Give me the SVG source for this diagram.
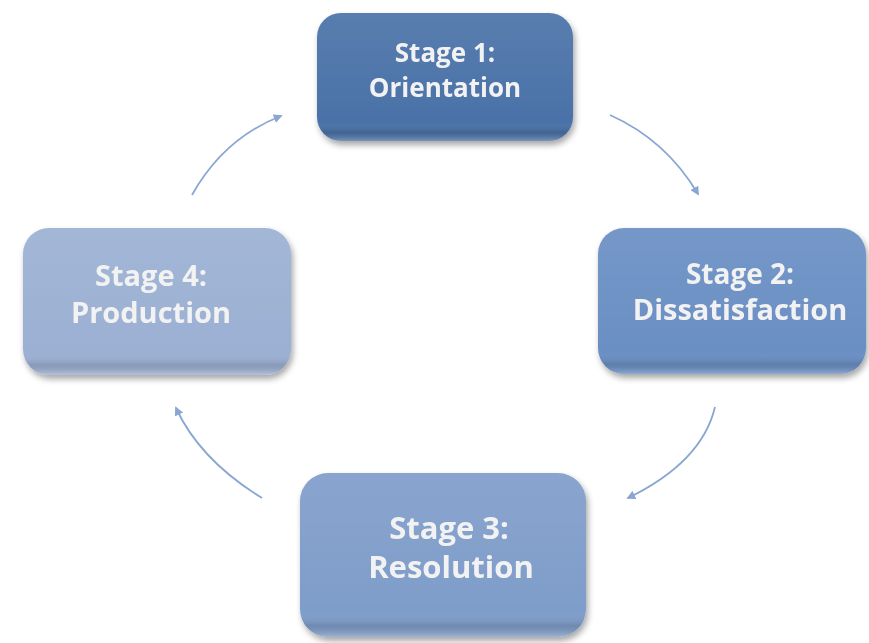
<svg xmlns="http://www.w3.org/2000/svg" width="869" height="643" viewBox="0 0 869 643">
<style>
.lbl{font-family:"Open Sans","Noto Sans",sans-serif;font-weight:bold;fill:#f2f2f2;text-anchor:middle}
.conn{fill:none;stroke:#8aa6d2;stroke-width:1.8;marker-end:url(#ah)}
</style>
<defs>
<marker id="ah" viewBox="0 0 10 10" refX="8" refY="5" markerWidth="5" markerHeight="5" orient="auto" markerUnits="strokeWidth">
<path d="M0,0 L10,5 L0,10 Z" fill="#8aa6d2"/>
</marker>
<filter id="sh" x="-10%" y="-10%" width="125%" height="130%">
<feDropShadow dx="2" dy="4" stdDeviation="3" flood-color="#000" flood-opacity="0.35"/>
</filter>
<linearGradient id="bev" x1="0" y1="0" x2="0" y2="1">
<stop offset="0" stop-color="#fff" stop-opacity="0.08"/>
<stop offset="0.85" stop-color="#fff" stop-opacity="0"/>
<stop offset="0.93" stop-color="#000" stop-opacity="0.12"/>
<stop offset="1" stop-color="#fff" stop-opacity="0.25"/>
</linearGradient>
</defs>
<g id="connectors">
<path class="conn" d="M192,195 Q224,138 281,116"/>
<path class="conn" d="M610,115 Q666,140 698,194"/>
<path class="conn" d="M715,407 Q702,462 628,498"/>
<path class="conn" d="M262,498 Q200,460 176,408"/>
</g>
<g id="stage1" filter="url(#sh)">
<rect x="317" y="13" width="256" height="128" rx="24" fill="#4a72a8"/>
<rect x="317" y="13" width="256" height="128" rx="24" fill="url(#bev)"/>
<text class="lbl" x="445" y="62" font-size="26">Stage 1:</text>
<text class="lbl" x="445" y="97" font-size="26">Orientation</text>
</g>
<g id="stage2" filter="url(#sh)">
<rect x="598" y="228" width="268" height="146" rx="26" fill="#6a8fc4"/>
<rect x="598" y="228" width="268" height="146" rx="26" fill="url(#bev)"/>
<text class="lbl" x="740" y="284" font-size="28">Stage 2:</text>
<text class="lbl" x="740" y="320" font-size="29">Dissatisfaction</text>
</g>
<g id="stage3" filter="url(#sh)">
<rect x="300" y="473" width="286" height="164" rx="28" fill="#7f9dca"/>
<rect x="300" y="473" width="286" height="164" rx="28" fill="url(#bev)"/>
<text class="lbl" x="449" y="539" font-size="31">Stage 3:</text>
<text class="lbl" x="451" y="578" font-size="31">Resolution</text>
</g>
<g id="stage4" filter="url(#sh)">
<rect x="23" y="228" width="268" height="147" rx="26" fill="#9bb0d3"/>
<rect x="23" y="228" width="268" height="147" rx="26" fill="url(#bev)"/>
<text class="lbl" x="151" y="286" font-size="29">Stage 4:</text>
<text class="lbl" x="151" y="323" font-size="29">Production</text>
</g>
</svg>
